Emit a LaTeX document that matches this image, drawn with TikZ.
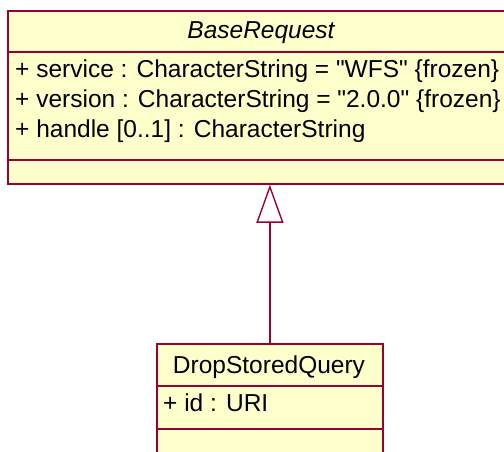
\documentclass[tikz,border=0pt]{standalone}
\usepackage{fontspec}
\setmainfont[Ligatures=TeXOff]{Liberation Sans}
\usetikzlibrary{positioning, arrows.meta}
\definecolor{umlborder}{RGB}{153,0,51}
\definecolor{umlfill}{RGB}{255,255,204}

\begin{document}
\begin{tikzpicture}[x=1pt, y=-1pt,
		class/.style={draw=umlborder, line width=1.8pt, fill=umlfill, inner sep=0pt, anchor=north west},
		sep/.style={draw=umlborder, line width=1.6pt},
		title/.style={inner sep=0pt, font=\fontsize{24.5}{28}\selectfont},
		attr/.style={anchor=base west, inner sep=0pt, font=\fontsize{24.5}{28}\selectfont},
		gen/.style={draw=umlborder, line width=1.4pt, -{Triangle[open, length=38pt, width=27pt]}}]

		\useasboundingbox (0,0) rectangle (504,452);
		\clip (0,0) rectangle (504,452);

		\node[class, minimum width=508pt, minimum height=173pt] (base) at (7,10) {};
		\draw[sep] ([yshift=-42pt]base.north west) -- ([yshift=-42pt]base.north east);
		\draw[sep] ([yshift=25pt]base.south west) -- ([yshift=25pt]base.south east);
		\node[title, font=\fontsize{24.5}{28}\selectfont\itshape] (base-name) at (261,33) {BaseRequest};
		\node[attr] (base-1) at (15,78) {+ service : CharacterString = "WFS" \{frozen\}};
		\node[attr] (base-2) at (15,107) {+ version : CharacterString = "2.0.0" \{frozen\}};
		\node[attr] (base-3) at (15,137) {+ handle [0..1] : CharacterString};

		\node[class, minimum width=226pt, minimum height=130pt] (drop) at (156,343) {};
		\draw[sep] ([yshift=-43pt]drop.north west) -- ([yshift=-43pt]drop.north east);
		\draw[sep] ([yshift=-86pt]drop.north west) -- ([yshift=-86pt]drop.north east);
		\node[title] (drop-name) at (269,367) {DropStoredQuery};
		\node[attr] (drop-1) at (163,411) {+ id : URI};

		\draw[gen] (drop.north) -- (drop.north |- base.south);
\end{tikzpicture}
\end{document}
